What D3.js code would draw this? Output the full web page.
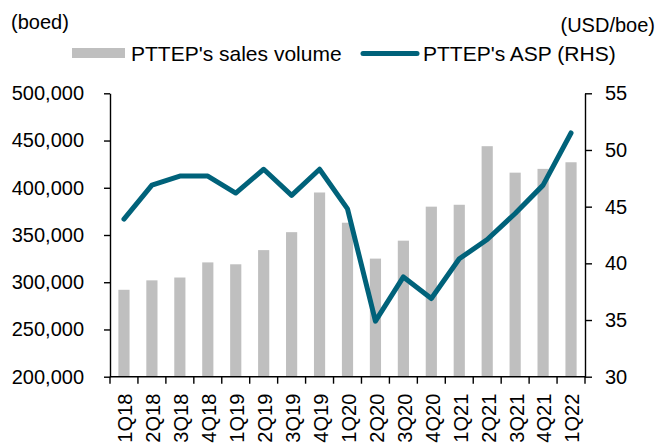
<!DOCTYPE html>
<html>
<head>
<meta charset="utf-8">
<script src="https://cdn.jsdelivr.net/npm/d3@7"></script>
<style>
  body { margin: 0; background: #fff; }
  svg { display: block; font-family: "Liberation Sans", Arial, sans-serif; }
  .tick-label { font-size: 20px; fill: #000; }
  .legend-label { font-size: 21px; fill: #000; }
</style>
</head>
<body>
<div id="chart"></div>
<script>
const quarters = ["1Q18", "2Q18", "3Q18", "4Q18", "1Q19", "2Q19", "3Q19", "4Q19", "1Q20",
  "2Q20", "3Q20", "4Q20", "1Q21", "2Q21", "3Q21", "4Q21", "1Q22"];
const salesVolume = [292000, 302000, 305000, 321000, 319000, 334000, 353000, 395000, 363000,
  325000, 344000, 380000, 382000, 444000, 416000, 420000, 427000];
const asp = [43.9, 46.9, 47.7, 47.7, 46.2, 48.3, 46.0, 48.3, 44.8,
  34.9, 38.8, 36.9, 40.4, 42.1, 44.4, 46.9, 51.5];
const leftTicks = [200000, 250000, 300000, 350000, 400000, 450000, 500000];
const rightTicks = [30, 35, 40, 45, 50, 55];
const seriesNames = ["PTTEP's sales volume", "PTTEP's ASP (RHS)"];

(function sales_asp() {
  const width = 659,
    height = 446,
    margin = { top: 93.3, right: 74, bottom: 69.3, left: 110 };

  const barColor = "#bfbfbf",
    lineColor = "#00627a";

  const svg = d3.select("#chart")
    .append("svg")
    .attr("width", width)
    .attr("height", height)
    .attr("viewBox", [0, 0, width, height]);

  const x = d3.scaleBand(quarters, [margin.left, width - margin.right])
    .paddingInner(0.6)
    .paddingOuter(0.3);

  const yLeft = d3.scaleLinear([200000, 500000], [height - margin.bottom, margin.top]);
  const yRight = d3.scaleLinear([30, 55], [height - margin.bottom, margin.top]);

  // bars
  svg.append("g")
    .selectAll("rect")
    .data(quarters)
    .join("rect")
    .attr("x", d => x(d))
    .attr("y", (d, i) => yLeft(salesVolume[i]))
    .attr("width", x.bandwidth())
    .attr("height", (d, i) => yLeft(200000) - yLeft(salesVolume[i]))
    .attr("fill", barColor);

  // ASP line
  const line = d3.line()
    .x((d, i) => x(quarters[i]) + x.bandwidth() / 2)
    .y(d => yRight(d));

  svg.append("path")
    .datum(asp)
    .attr("d", line)
    .attr("fill", "none")
    .attr("stroke", lineColor)
    .attr("stroke-width", 5)
    .attr("stroke-linejoin", "round")
    .attr("stroke-linecap", "round");

  // left axis
  const gl = svg.append("g")
    .attr("transform", `translate(${margin.left},0)`)
    .call(d3.axisLeft(yLeft).tickValues(leftTicks).tickSize(6).tickPadding(20)
      .tickSizeOuter(0).tickFormat(d3.format(",")));

  // right axis
  const gr = svg.append("g")
    .attr("transform", `translate(${width - margin.right},0)`)
    .call(d3.axisRight(yRight).tickValues(rightTicks).tickSize(7).tickPadding(13)
      .tickSizeOuter(0));

  [gl, gr].forEach(g => {
    g.select(".domain").attr("stroke", "#000").attr("stroke-width", 1.4);
    g.selectAll(".tick line").attr("stroke", "#000").attr("stroke-width", 1.4);
    g.selectAll(".tick text").attr("class", "tick-label").attr("font-size", null)
      .attr("font-family", null);
  });

  // x axis: line, ticks on category boundaries, rotated labels
  const step = x.step();
  const base = height - margin.bottom;
  const bounds = d3.range(quarters.length + 1).map(i => margin.left + i * step);

  svg.append("line")
    .attr("x1", margin.left).attr("x2", width - margin.right)
    .attr("y1", base).attr("y2", base)
    .attr("stroke", "#000").attr("stroke-width", 1.4);

  svg.append("g")
    .selectAll("line")
    .data(bounds)
    .join("line")
    .attr("x1", d => d).attr("x2", d => d)
    .attr("y1", base).attr("y2", base + 7)
    .attr("stroke", "#000").attr("stroke-width", 1.4);

  svg.append("g")
    .selectAll("text")
    .data(quarters)
    .join("text")
    .attr("class", "tick-label")
    .attr("text-anchor", "end")
    .attr("dy", "0.42em")
    .attr("transform", d => `translate(${x(d) + x.bandwidth() / 2},${base + 17}) rotate(-90)`)
    .text(d => d);

  // unit labels
  svg.append("text")
    .attr("class", "tick-label")
    .attr("x", 11)
    .attr("y", 29)
    .text("(boed)");

  svg.append("text")
    .attr("class", "tick-label")
    .attr("text-anchor", "end")
    .attr("x", 655)
    .attr("y", 32)
    .text("(USD/boe)");

  // legend
  const legend = svg.append("g");

  legend.append("rect")
    .attr("x", 72).attr("y", 48)
    .attr("width", 53).attr("height", 10)
    .attr("fill", barColor);

  legend.append("text")
    .attr("class", "legend-label")
    .attr("x", 131)
    .attr("y", 61)
    .text(seriesNames[0]);

  legend.append("line")
    .attr("x1", 363).attr("x2", 417)
    .attr("y1", 53.5).attr("y2", 53.5)
    .attr("stroke", lineColor)
    .attr("stroke-width", 5)
    .attr("stroke-linecap", "round");

  legend.append("text")
    .attr("class", "legend-label")
    .attr("x", 423)
    .attr("y", 61)
    .text(seriesNames[1]);
})();
</script>
</body>
</html>
